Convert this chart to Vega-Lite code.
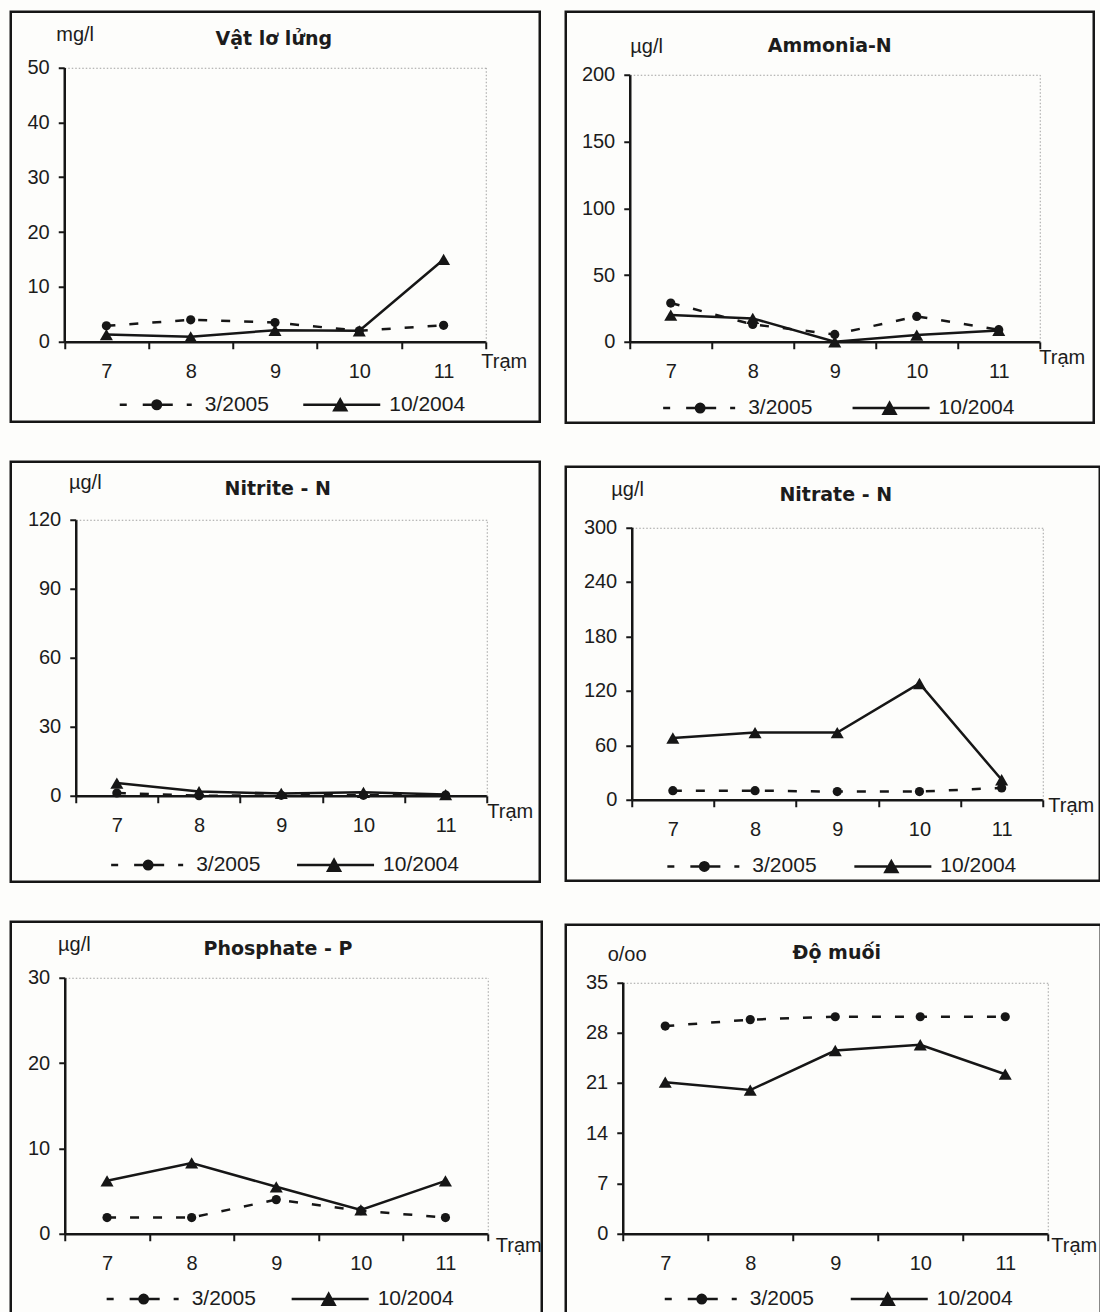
{
  "$schema": "https://vega.github.io/schema/vega-lite/v6.json",
  "background": "#fdfdfb",
  "padding": {"left": 8.75, "top": 9.75, "right": 2, "bottom": 2},
  "autosize": {"type": "pad"},
  "datasets": {
    "wq": [
      {"p": "VLL", "station": 7, "series": "3/2005", "value": 2.9},
      {"p": "VLL", "station": 8, "series": "3/2005", "value": 4.0},
      {"p": "VLL", "station": 9, "series": "3/2005", "value": 3.5},
      {"p": "VLL", "station": 10, "series": "3/2005", "value": 2.0},
      {"p": "VLL", "station": 11, "series": "3/2005", "value": 3.0},
      {"p": "VLL", "station": 7, "series": "10/2004", "value": 1.3},
      {"p": "VLL", "station": 8, "series": "10/2004", "value": 0.9},
      {"p": "VLL", "station": 9, "series": "10/2004", "value": 2.1},
      {"p": "VLL", "station": 10, "series": "10/2004", "value": 2.0},
      {"p": "VLL", "station": 11, "series": "10/2004", "value": 15.0},
      {"p": "NH4", "station": 7, "series": "3/2005", "value": 29},
      {"p": "NH4", "station": 8, "series": "3/2005", "value": 13},
      {"p": "NH4", "station": 9, "series": "3/2005", "value": 5.5},
      {"p": "NH4", "station": 10, "series": "3/2005", "value": 19},
      {"p": "NH4", "station": 11, "series": "3/2005", "value": 9},
      {"p": "NH4", "station": 7, "series": "10/2004", "value": 20},
      {"p": "NH4", "station": 8, "series": "10/2004", "value": 17.5},
      {"p": "NH4", "station": 9, "series": "10/2004", "value": 0},
      {"p": "NH4", "station": 10, "series": "10/2004", "value": 5},
      {"p": "NH4", "station": 11, "series": "10/2004", "value": 8.5},
      {"p": "NO2", "station": 7, "series": "3/2005", "value": 1.2},
      {"p": "NO2", "station": 8, "series": "3/2005", "value": 0},
      {"p": "NO2", "station": 9, "series": "3/2005", "value": 0.2},
      {"p": "NO2", "station": 10, "series": "3/2005", "value": 0.2},
      {"p": "NO2", "station": 11, "series": "3/2005", "value": 0.3},
      {"p": "NO2", "station": 7, "series": "10/2004", "value": 5.5},
      {"p": "NO2", "station": 8, "series": "10/2004", "value": 1.8},
      {"p": "NO2", "station": 9, "series": "10/2004", "value": 1.0},
      {"p": "NO2", "station": 10, "series": "10/2004", "value": 1.5},
      {"p": "NO2", "station": 11, "series": "10/2004", "value": 0.5},
      {"p": "NO3", "station": 7, "series": "3/2005", "value": 10},
      {"p": "NO3", "station": 8, "series": "3/2005", "value": 10},
      {"p": "NO3", "station": 9, "series": "3/2005", "value": 9},
      {"p": "NO3", "station": 10, "series": "3/2005", "value": 9},
      {"p": "NO3", "station": 11, "series": "3/2005", "value": 13},
      {"p": "NO3", "station": 7, "series": "10/2004", "value": 68},
      {"p": "NO3", "station": 8, "series": "10/2004", "value": 74},
      {"p": "NO3", "station": 9, "series": "10/2004", "value": 74},
      {"p": "NO3", "station": 10, "series": "10/2004", "value": 128},
      {"p": "NO3", "station": 11, "series": "10/2004", "value": 22},
      {"p": "PO4", "station": 7, "series": "3/2005", "value": 1.9},
      {"p": "PO4", "station": 8, "series": "3/2005", "value": 1.9},
      {"p": "PO4", "station": 9, "series": "3/2005", "value": 4.0},
      {"p": "PO4", "station": 10, "series": "3/2005", "value": 2.7},
      {"p": "PO4", "station": 11, "series": "3/2005", "value": 1.9},
      {"p": "PO4", "station": 7, "series": "10/2004", "value": 6.2},
      {"p": "PO4", "station": 8, "series": "10/2004", "value": 8.3},
      {"p": "PO4", "station": 9, "series": "10/2004", "value": 5.5},
      {"p": "PO4", "station": 10, "series": "10/2004", "value": 2.8},
      {"p": "PO4", "station": 11, "series": "10/2004", "value": 6.2},
      {"p": "SAL", "station": 7, "series": "3/2005", "value": 28.9},
      {"p": "SAL", "station": 8, "series": "3/2005", "value": 29.8},
      {"p": "SAL", "station": 9, "series": "3/2005", "value": 30.2},
      {"p": "SAL", "station": 10, "series": "3/2005", "value": 30.2},
      {"p": "SAL", "station": 11, "series": "3/2005", "value": 30.2},
      {"p": "SAL", "station": 7, "series": "10/2004", "value": 21.1},
      {"p": "SAL", "station": 8, "series": "10/2004", "value": 20.0},
      {"p": "SAL", "station": 9, "series": "10/2004", "value": 25.5},
      {"p": "SAL", "station": 10, "series": "10/2004", "value": 26.3},
      {"p": "SAL", "station": 11, "series": "10/2004", "value": 22.2}
    ]
  },
  "resolve": {"scale": {"color": "independent"}, "legend": {"color": "independent"}},
  "spacing": 20,
  "hconcat": [
    {
      "spacing": 40,
      "bounds": "flush",
      "resolve": {"scale": {"color": "independent"}, "legend": {"color": "independent"}},
      "vconcat": [
        {
          "width": 529, "height": 410,
          "data": {"name": "wq"},
          "transform": [{"filter": "datum.p === 'VLL'"}],
          "title": {"text": "Vật lơ lửng", "offset": -37.5, "dx": -1.5},
          "encoding": {
            "x": {"field": "station", "type": "quantitative",
              "scale": {"domain": [6.5, 11.5], "range": [53.5, 475], "nice": false, "zero": false},
              "axis": {"values": [6.5, 7.5, 8.5, 9.5, 10.5, 11.5], "offset": -80, "grid": false, "labelExpr": "datum.value < 11 ? format(datum.value + 0.5, 'd') : ''", "labelOffset": 42.15, "tickSize": 7, "labelPadding": 13, "title": "Trạm", "titleAlign": "left", "titleBaseline": "alphabetic", "titleX": 470, "titleY": 26}}
          },
          "resolve": {"axis": {"y": "independent"}, "scale": {"color": "independent"}, "legend": {"color": "independent"}},
          "layer": [
            {"transform": [{"filter": "datum.series === '3/2005'"}],
             "mark": {"type": "line", "color": "#161616", "strokeWidth": 2.5, "strokeDash": [9, 14]},
             "encoding": {"y": {"field": "value", "type": "quantitative",
              "scale": {"domain": [0, 50], "range": [330, 55.7], "nice": false, "zero": false},
              "axis": {"values": [0, 10, 20, 30, 40, 50], "offset": -53.5, "title": "mg/l", "titleAngle": 0, "titleAlign": "left", "titleBaseline": "alphabetic", "titleX": -8.5, "titleY": 28.3, "tickSize": 6, "labelPadding": 9, "grid": true, "gridOpacity": {"condition": {"test": "datum.value === 50", "value": 1}, "value": 0}}}}},
            {"transform": [{"filter": "datum.series === '10/2004'"}],
             "mark": {"type": "line", "color": "#161616", "strokeWidth": 2.5},
             "encoding": {"y": {"field": "value", "type": "quantitative", "axis": null}}},
            {"transform": [{"filter": "datum.series === '3/2005'"}],
             "mark": {"type": "point", "filled": true, "opacity": 1},
             "encoding": {
               "y": {"field": "value", "type": "quantitative", "axis": {"orient": "right", "offset": -54, "labels": false, "ticks": false, "title": null, "grid": false, "domainColor": "#a0a0a0", "domainWidth": 1, "domainDash": [1.5, 2]}},
               "size": {"value": 85},
               "color": {"field": "series", "type": "nominal", "scale": {"domain": ["3/2005"], "range": ["#161616"]},
                 "legend": {"title": null, "orient": "none", "legendX": 106, "legendY": 353, "labelOffset": 8, "symbolType": "M-0.961,0H-0.779M-0.364,0H0.416M0.779,0H0.909M0.11,0A0.11,0.11,0,1,1,-0.11,0A0.11,0.11,0,1,1,0.11,0Z"}}}},
            {"transform": [{"filter": "datum.series === '10/2004'"}],
             "mark": {"type": "point", "filled": true, "opacity": 1},
             "encoding": {
               "y": {"field": "value", "type": "quantitative", "axis": null},
               "size": {"value": 170},
               "shape": {"value": "triangle-up"},
               "color": {"field": "series", "type": "nominal", "scale": {"domain": ["10/2004"], "range": ["#161616"]},
                 "legend": {"title": null, "orient": "none", "legendX": 289.5, "legendY": 353, "labelOffset": 9, "symbolType": "M-0.961,0H1.039M0,-0.135L0.155,0.145L-0.155,0.145Z"}}}}
          ]
        },
        {
          "width": 529, "height": 420,
          "data": {"name": "wq"},
          "transform": [{"filter": "datum.p === 'NO2'"}],
          "title": {"text": "Nitrite - N", "offset": -37.5, "dx": 2.5},
          "encoding": {
            "x": {"field": "station", "type": "quantitative",
              "scale": {"domain": [6.5, 11.5], "range": [65, 476], "nice": false, "zero": false},
              "axis": {"values": [6.5, 7.5, 8.5, 9.5, 10.5, 11.5], "offset": -86, "grid": false, "labelExpr": "datum.value < 11 ? format(datum.value + 0.5, 'd') : ''", "labelOffset": 41.1, "tickSize": 7, "labelPadding": 13, "title": "Trạm", "titleAlign": "left", "titleBaseline": "alphabetic", "titleX": 476, "titleY": 21.7}}
          },
          "resolve": {"axis": {"y": "independent"}, "scale": {"color": "independent"}, "legend": {"color": "independent"}},
          "layer": [
            {"transform": [{"filter": "datum.series === '3/2005'"}],
             "mark": {"type": "line", "color": "#161616", "strokeWidth": 2.5, "strokeDash": [9, 14]},
             "encoding": {"y": {"field": "value", "type": "quantitative",
              "scale": {"domain": [0, 120], "range": [334, 58], "nice": false, "zero": false},
              "axis": {"values": [0, 30, 60, 90, 120], "offset": -65, "title": "µg/l", "titleAngle": 0, "titleAlign": "left", "titleBaseline": "alphabetic", "titleX": -7.3, "titleY": 27, "tickSize": 6, "labelPadding": 9, "grid": true, "gridOpacity": {"condition": {"test": "datum.value === 120", "value": 1}, "value": 0}}}}},
            {"transform": [{"filter": "datum.series === '10/2004'"}],
             "mark": {"type": "line", "color": "#161616", "strokeWidth": 2.5},
             "encoding": {"y": {"field": "value", "type": "quantitative", "axis": null}}},
            {"transform": [{"filter": "datum.series === '3/2005'"}],
             "mark": {"type": "point", "filled": true, "opacity": 1},
             "encoding": {
               "y": {"field": "value", "type": "quantitative", "axis": {"orient": "right", "offset": -53, "labels": false, "ticks": false, "title": null, "grid": false, "domainColor": "#a0a0a0", "domainWidth": 1, "domainDash": [1.5, 2]}},
               "size": {"value": 85},
               "color": {"field": "series", "type": "nominal", "scale": {"domain": ["3/2005"], "range": ["#161616"]},
                 "legend": {"title": null, "orient": "none", "legendX": 97.4, "legendY": 363.3, "labelOffset": 8, "symbolType": "M-0.961,0H-0.779M-0.364,0H0.416M0.779,0H0.909M0.11,0A0.11,0.11,0,1,1,-0.11,0A0.11,0.11,0,1,1,0.11,0Z"}}}},
            {"transform": [{"filter": "datum.series === '10/2004'"}],
             "mark": {"type": "point", "filled": true, "opacity": 1},
             "encoding": {
               "y": {"field": "value", "type": "quantitative", "axis": null},
               "size": {"value": 170},
               "shape": {"value": "triangle-up"},
               "color": {"field": "series", "type": "nominal", "scale": {"domain": ["10/2004"], "range": ["#161616"]},
                 "legend": {"title": null, "orient": "none", "legendX": 283.3, "legendY": 363.3, "labelOffset": 9, "symbolType": "M-0.961,0H1.039M0,-0.135L0.155,0.145L-0.155,0.145Z"}}}}
          ]
        },
        {
          "width": 531, "height": 400,
          "data": {"name": "wq"},
          "transform": [{"filter": "datum.p === 'PO4'"}],
          "title": {"text": "Phosphate - P", "offset": -37.5, "dx": 1.7},
          "encoding": {
            "x": {"field": "station", "type": "quantitative",
              "scale": {"domain": [6.5, 11.5], "range": [54, 477], "nice": false, "zero": false},
              "axis": {"values": [6.5, 7.5, 8.5, 9.5, 10.5, 11.5], "offset": -88, "grid": false, "labelExpr": "datum.value < 11 ? format(datum.value + 0.5, 'd') : ''", "labelOffset": 42.3, "tickSize": 7, "labelPadding": 13, "title": "Trạm", "titleAlign": "left", "titleBaseline": "alphabetic", "titleX": 484.6, "titleY": 18}}
          },
          "resolve": {"axis": {"y": "independent"}, "scale": {"color": "independent"}, "legend": {"color": "independent"}},
          "layer": [
            {"transform": [{"filter": "datum.series === '3/2005'"}],
             "mark": {"type": "line", "color": "#161616", "strokeWidth": 2.5, "strokeDash": [9, 14]},
             "encoding": {"y": {"field": "value", "type": "quantitative",
              "scale": {"domain": [0, 30], "range": [312, 56], "nice": false, "zero": false},
              "axis": {"values": [0, 10, 20, 30], "offset": -54, "title": "µg/l", "titleAngle": 0, "titleAlign": "left", "titleBaseline": "alphabetic", "titleX": -7.2, "titleY": 29, "tickSize": 6, "labelPadding": 9, "grid": true, "gridOpacity": {"condition": {"test": "datum.value === 30", "value": 1}, "value": 0}}}}},
            {"transform": [{"filter": "datum.series === '10/2004'"}],
             "mark": {"type": "line", "color": "#161616", "strokeWidth": 2.5},
             "encoding": {"y": {"field": "value", "type": "quantitative", "axis": null}}},
            {"transform": [{"filter": "datum.series === '3/2005'"}],
             "mark": {"type": "point", "filled": true, "opacity": 1},
             "encoding": {
               "y": {"field": "value", "type": "quantitative", "axis": {"orient": "right", "offset": -54, "labels": false, "ticks": false, "title": null, "grid": false, "domainColor": "#a0a0a0", "domainWidth": 1, "domainDash": [1.5, 2]}},
               "size": {"value": 85},
               "color": {"field": "series", "type": "nominal", "scale": {"domain": ["3/2005"], "range": ["#161616"]},
                 "legend": {"title": null, "orient": "none", "legendX": 92.9, "legendY": 337.3, "labelOffset": 8, "symbolType": "M-0.961,0H-0.779M-0.364,0H0.416M0.779,0H0.909M0.11,0A0.11,0.11,0,1,1,-0.11,0A0.11,0.11,0,1,1,0.11,0Z"}}}},
            {"transform": [{"filter": "datum.series === '10/2004'"}],
             "mark": {"type": "point", "filled": true, "opacity": 1},
             "encoding": {
               "y": {"field": "value", "type": "quantitative", "axis": null},
               "size": {"value": 170},
               "shape": {"value": "triangle-up"},
               "color": {"field": "series", "type": "nominal", "scale": {"domain": ["10/2004"], "range": ["#161616"]},
                 "legend": {"title": null, "orient": "none", "legendX": 277.9, "legendY": 337.3, "labelOffset": 9, "symbolType": "M-0.961,0H1.039M0,-0.135L0.155,0.145L-0.155,0.145Z"}}}}
          ]
        }
      ]
    },
    {
      "spacing": 44,
      "bounds": "flush",
      "resolve": {"scale": {"color": "independent"}, "legend": {"color": "independent"}},
      "vconcat": [
        {
          "width": 528, "height": 411,
          "data": {"name": "wq"},
          "transform": [{"filter": "datum.p === 'NH4'"}],
          "title": {"text": "Ammonia-N", "offset": -44, "dx": 0},
          "encoding": {
            "x": {"field": "station", "type": "quantitative",
              "scale": {"domain": [6.5, 11.5], "range": [64, 474], "nice": false, "zero": false},
              "axis": {"values": [6.5, 7.5, 8.5, 9.5, 10.5, 11.5], "offset": -81, "grid": false, "labelExpr": "datum.value < 11 ? format(datum.value + 0.5, 'd') : ''", "labelOffset": 41, "tickSize": 7, "labelPadding": 13, "title": "Trạm", "titleAlign": "left", "titleBaseline": "alphabetic", "titleX": 473, "titleY": 22}}
          },
          "resolve": {"axis": {"y": "independent"}, "scale": {"color": "independent"}, "legend": {"color": "independent"}},
          "layer": [
            {"transform": [{"filter": "datum.series === '3/2005'"}],
             "mark": {"type": "line", "color": "#161616", "strokeWidth": 2.5, "strokeDash": [9, 14]},
             "encoding": {"y": {"field": "value", "type": "quantitative",
              "scale": {"domain": [0, 200], "range": [330, 63], "nice": false, "zero": false},
              "axis": {"values": [0, 50, 100, 150, 200], "offset": -64, "title": "µg/l", "titleAngle": 0, "titleAlign": "left", "titleBaseline": "alphabetic", "titleX": 0, "titleY": 41, "tickSize": 6, "labelPadding": 9, "grid": true, "gridOpacity": {"condition": {"test": "datum.value === 200", "value": 1}, "value": 0}}}}},
            {"transform": [{"filter": "datum.series === '10/2004'"}],
             "mark": {"type": "line", "color": "#161616", "strokeWidth": 2.5},
             "encoding": {"y": {"field": "value", "type": "quantitative", "axis": null}}},
            {"transform": [{"filter": "datum.series === '3/2005'"}],
             "mark": {"type": "point", "filled": true, "opacity": 1},
             "encoding": {
               "y": {"field": "value", "type": "quantitative", "axis": {"orient": "right", "offset": -54, "labels": false, "ticks": false, "title": null, "grid": false, "domainColor": "#a0a0a0", "domainWidth": 1, "domainDash": [1.5, 2]}},
               "size": {"value": 85},
               "color": {"field": "series", "type": "nominal", "scale": {"domain": ["3/2005"], "range": ["#161616"]},
                 "legend": {"title": null, "orient": "none", "legendX": 94.4, "legendY": 356.3, "labelOffset": 8, "symbolType": "M-0.961,0H-0.779M-0.364,0H0.416M0.779,0H0.909M0.11,0A0.11,0.11,0,1,1,-0.11,0A0.11,0.11,0,1,1,0.11,0Z"}}}},
            {"transform": [{"filter": "datum.series === '10/2004'"}],
             "mark": {"type": "point", "filled": true, "opacity": 1},
             "encoding": {
               "y": {"field": "value", "type": "quantitative", "axis": null},
               "size": {"value": 170},
               "shape": {"value": "triangle-up"},
               "color": {"field": "series", "type": "nominal", "scale": {"domain": ["10/2004"], "range": ["#161616"]},
                 "legend": {"title": null, "orient": "none", "legendX": 283.8, "legendY": 356.3, "labelOffset": 9, "symbolType": "M-0.961,0H1.039M0,-0.135L0.155,0.145L-0.155,0.145Z"}}}}
          ]
        },
        {
          "width": 534, "height": 414,
          "data": {"name": "wq"},
          "transform": [{"filter": "datum.p === 'NO3'"}],
          "title": {"text": "Nitrate - N", "offset": -38.5, "dx": 3},
          "encoding": {
            "x": {"field": "station", "type": "quantitative",
              "scale": {"domain": [6.5, 11.5], "range": [66, 477], "nice": false, "zero": false},
              "axis": {"values": [6.5, 7.5, 8.5, 9.5, 10.5, 11.5], "offset": -81, "grid": false, "labelExpr": "datum.value < 11 ? format(datum.value + 0.5, 'd') : ''", "labelOffset": 41.1, "tickSize": 7, "labelPadding": 13, "title": "Trạm", "titleAlign": "left", "titleBaseline": "alphabetic", "titleX": 482, "titleY": 12}}
          },
          "resolve": {"axis": {"y": "independent"}, "scale": {"color": "independent"}, "legend": {"color": "independent"}},
          "layer": [
            {"transform": [{"filter": "datum.series === '3/2005'"}],
             "mark": {"type": "line", "color": "#161616", "strokeWidth": 2.5, "strokeDash": [9, 14]},
             "encoding": {"y": {"field": "value", "type": "quantitative",
              "scale": {"domain": [0, 300], "range": [333, 60.5], "nice": false, "zero": false},
              "axis": {"values": [0, 60, 120, 180, 240, 300], "offset": -66, "title": "µg/l", "titleAngle": 0, "titleAlign": "left", "titleBaseline": "alphabetic", "titleX": -21, "titleY": 29, "tickSize": 6, "labelPadding": 9, "grid": true, "gridOpacity": {"condition": {"test": "datum.value === 300", "value": 1}, "value": 0}}}}},
            {"transform": [{"filter": "datum.series === '10/2004'"}],
             "mark": {"type": "line", "color": "#161616", "strokeWidth": 2.5},
             "encoding": {"y": {"field": "value", "type": "quantitative", "axis": null}}},
            {"transform": [{"filter": "datum.series === '3/2005'"}],
             "mark": {"type": "point", "filled": true, "opacity": 1},
             "encoding": {
               "y": {"field": "value", "type": "quantitative", "axis": {"orient": "right", "offset": -57, "labels": false, "ticks": false, "title": null, "grid": false, "domainColor": "#a0a0a0", "domainWidth": 1, "domainDash": [1.5, 2]}},
               "size": {"value": 85},
               "color": {"field": "series", "type": "nominal", "scale": {"domain": ["3/2005"], "range": ["#161616"]},
                 "legend": {"title": null, "orient": "none", "legendX": 98.6, "legendY": 359.7, "labelOffset": 8, "symbolType": "M-0.961,0H-0.779M-0.364,0H0.416M0.779,0H0.909M0.11,0A0.11,0.11,0,1,1,-0.11,0A0.11,0.11,0,1,1,0.11,0Z"}}}},
            {"transform": [{"filter": "datum.series === '10/2004'"}],
             "mark": {"type": "point", "filled": true, "opacity": 1},
             "encoding": {
               "y": {"field": "value", "type": "quantitative", "axis": null},
               "size": {"value": 170},
               "shape": {"value": "triangle-up"},
               "color": {"field": "series", "type": "nominal", "scale": {"domain": ["10/2004"], "range": ["#161616"]},
                 "legend": {"title": null, "orient": "none", "legendX": 285.6, "legendY": 359.7, "labelOffset": 9, "symbolType": "M-0.961,0H1.039M0,-0.135L0.155,0.145L-0.155,0.145Z"}}}}
          ]
        },
        {
          "width": 535, "height": 400,
          "data": {"name": "wq"},
          "transform": [{"filter": "datum.p === 'SAL'"}],
          "title": {"text": "Độ muối", "offset": -38.5, "dx": 3.5},
          "encoding": {
            "x": {"field": "station", "type": "quantitative",
              "scale": {"domain": [6.5, 11.5], "range": [57, 482], "nice": false, "zero": false},
              "axis": {"values": [6.5, 7.5, 8.5, 9.5, 10.5, 11.5], "offset": -91, "grid": false, "labelExpr": "datum.value < 11 ? format(datum.value + 0.5, 'd') : ''", "labelOffset": 42.5, "tickSize": 7, "labelPadding": 13, "title": "Trạm", "titleAlign": "left", "titleBaseline": "alphabetic", "titleX": 485, "titleY": 18}}
          },
          "resolve": {"axis": {"y": "independent"}, "scale": {"color": "independent"}, "legend": {"color": "independent"}},
          "layer": [
            {"transform": [{"filter": "datum.series === '3/2005'"}],
             "mark": {"type": "line", "color": "#161616", "strokeWidth": 2.5, "strokeDash": [9, 14]},
             "encoding": {"y": {"field": "value", "type": "quantitative",
              "scale": {"domain": [0, 35], "range": [309, 57.5], "nice": false, "zero": false},
              "axis": {"values": [0, 7, 14, 21, 28, 35], "offset": -57, "title": "o/oo", "titleAngle": 0, "titleAlign": "left", "titleBaseline": "alphabetic", "titleX": -15.6, "titleY": 36, "tickSize": 6, "labelPadding": 9, "grid": true, "gridOpacity": {"condition": {"test": "datum.value === 35", "value": 1}, "value": 0}}}}},
            {"transform": [{"filter": "datum.series === '10/2004'"}],
             "mark": {"type": "line", "color": "#161616", "strokeWidth": 2.5},
             "encoding": {"y": {"field": "value", "type": "quantitative", "axis": null}}},
            {"transform": [{"filter": "datum.series === '3/2005'"}],
             "mark": {"type": "point", "filled": true, "opacity": 1},
             "encoding": {
               "y": {"field": "value", "type": "quantitative", "axis": {"orient": "right", "offset": -53, "labels": false, "ticks": false, "title": null, "grid": false, "domainColor": "#a0a0a0", "domainWidth": 1, "domainDash": [1.5, 2]}},
               "size": {"value": 85},
               "color": {"field": "series", "type": "nominal", "scale": {"domain": ["3/2005"], "range": ["#161616"]},
                 "legend": {"title": null, "orient": "none", "legendX": 96, "legendY": 334.3, "labelOffset": 8, "symbolType": "M-0.961,0H-0.779M-0.364,0H0.416M0.779,0H0.909M0.11,0A0.11,0.11,0,1,1,-0.11,0A0.11,0.11,0,1,1,0.11,0Z"}}}},
            {"transform": [{"filter": "datum.series === '10/2004'"}],
             "mark": {"type": "point", "filled": true, "opacity": 1},
             "encoding": {
               "y": {"field": "value", "type": "quantitative", "axis": null},
               "size": {"value": 170},
               "shape": {"value": "triangle-up"},
               "color": {"field": "series", "type": "nominal", "scale": {"domain": ["10/2004"], "range": ["#161616"]},
                 "legend": {"title": null, "orient": "none", "legendX": 282, "legendY": 334.3, "labelOffset": 9, "symbolType": "M-0.961,0H1.039M0,-0.135L0.155,0.145L-0.155,0.145Z"}}}}
          ]
        }
      ]
    }
  ],
  "config": {
    "view": {"stroke": "#161616", "strokeWidth": 2.5},
    "font": "Liberation Sans",
    "axis": {"labelFont": "Liberation Sans", "labelFontSize": 20, "labelColor": "#1c1c1c", "domainColor": "#161616", "domainWidth": 2.5, "tickColor": "#161616", "tickWidth": 2, "titleFont": "Liberation Sans", "titleFontSize": 20, "titleFontWeight": "normal", "titleColor": "#1c1c1c", "labelFlush": false, "labelBound": false, "labelOverlap": false, "gridColor": "#a0a0a0", "gridDash": [1.5, 2], "gridWidth": 1, "titlePadding": 0},
    "title": {"font": "DejaVu Sans", "fontSize": 19, "fontWeight": "bold", "color": "#1c1c1c", "anchor": "middle", "frame": "group", "baseline": "alphabetic"},
    "legend": {"labelFont": "Liberation Sans", "labelFontSize": 21, "labelColor": "#1c1c1c", "symbolSize": 5929, "symbolStrokeWidth": 2.5, "symbolStrokeColor": "#161616", "symbolFillColor": "#161616", "symbolOpacity": 1, "padding": 0, "labelLimit": 0}
  }
}
